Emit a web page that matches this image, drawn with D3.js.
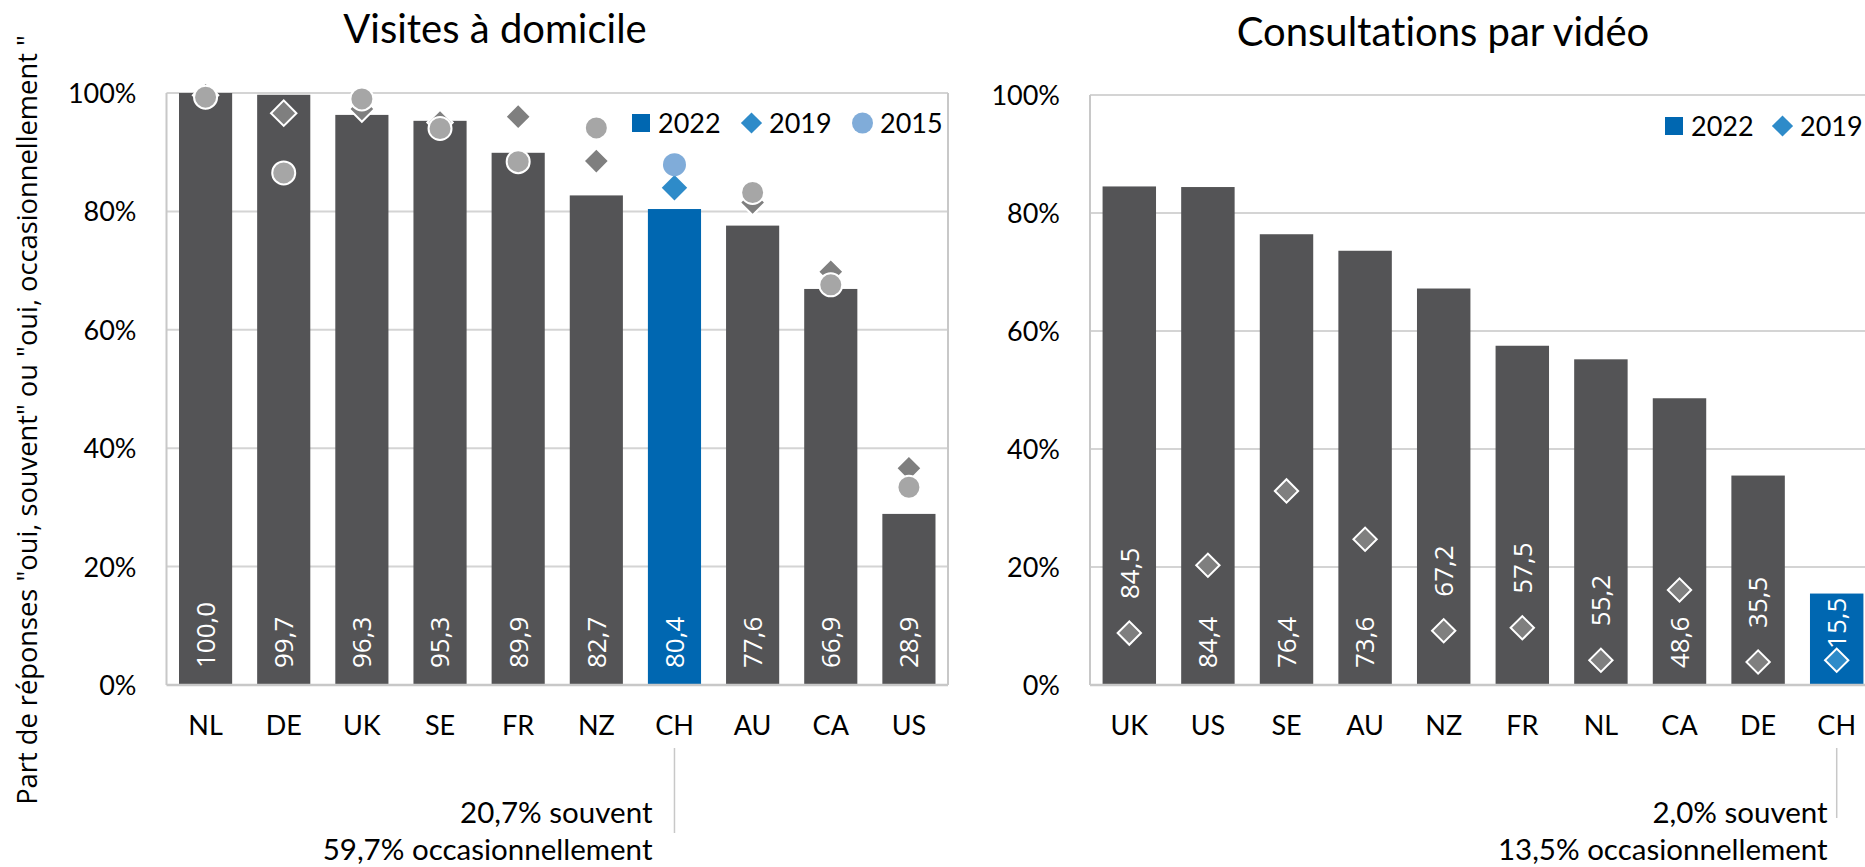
<!DOCTYPE html>
<html>
<head>
<meta charset="utf-8">
<script src="https://cdn.jsdelivr.net/npm/d3@7"></script>
<style>
  html, body { margin: 0; padding: 0; background: #fff; }
  svg { display: block; }
  text { font-variant-ligatures: none; font-feature-settings: "liga" 0; }
</style>
</head>
<body>
<svg id="chart" width="1865" height="867"></svg>
<script>
// ---------- DATA ----------
const visitCountries = ["NL","DE","UK","SE","FR","NZ","CH","AU","CA","US"];
const visits2022 = [100.0, 99.7, 96.3, 95.3, 89.9, 82.7, 80.4, 77.6, 66.9, 28.9];
const visits2019 = [99.6, 96.6, 97.3, 95.0, 96.0, 88.5, 84.0, 81.5, 69.8, 36.6];
const visits2015 = [99.3, 86.5, 99.0, 94.0, 88.4, 94.1, 87.9, 83.2, 67.6, 33.4];

const videoCountries = ["UK","US","SE","AU","NZ","FR","NL","CA","DE","CH"];
const video2022 = [84.5, 84.4, 76.4, 73.6, 67.2, 57.5, 55.2, 48.6, 35.5, 15.5];
const video2019 = [8.8, 20.3, 32.9, 24.7, 9.2, 9.7, 4.2, 16.1, 3.9, 4.2];

const yTicks = [0, 20, 40, 60, 80, 100];
const highlight = "CH";
const titles = ["Visites à domicile", "Consultations par vidéo"];
const yAxisTitle = 'Part de réponses "oui, souvent" ou "oui, occasionnellement "';
const visitNotes = ["20,7% souvent", "59,7% occasionnellement"];
const videoNotes = ["2,0% souvent", "13,5% occasionnellement"];

// ---------- STYLE ----------
const C = {
  bar: "#545456", blue: "#0067b1", dia: "#7f7f7f", circ: "#a6a6a6",
  blueDia: "#2e8bc9", blueCirc: "#80acd9", grid: "#d4d4d4", border: "#c8c8c8"
};
const FONT = "Lato, Carlito, Calibri, sans-serif";
const FONT2 = "'Open Sans', 'Noto Sans', sans-serif";

const svg = d3.select("#chart");
const fmt = v => d3.format(".1f")(v).replace(".", ",");

function panel(opts) {
  const {x0, x1, y0, y100, cats, v22, v19, v15} = opts;
  const g = svg.append("g");
  const x = d3.scaleBand().domain(cats).range([x0, x1]).paddingInner(0.32).paddingOuter(0.16);
  const y = d3.scaleLinear().domain([0, 100]).range([y0, y100]);

  g.selectAll("line.grid").data(yTicks.filter(t => t > 0)).join("line")
    .attr("x1", x0).attr("x2", x1).attr("y1", d => y(d)).attr("y2", d => y(d))
    .attr("stroke", C.grid).attr("stroke-width", 2);
  g.append("line").attr("x1", x0).attr("x2", x0).attr("y1", y(100)).attr("y2", y(0))
    .attr("stroke", C.border).attr("stroke-width", 2);
  g.append("line").attr("x1", x1).attr("x2", x1).attr("y1", y(100)).attr("y2", y(0))
    .attr("stroke", C.border).attr("stroke-width", 2);

  const ax = g.append("g").attr("transform", `translate(${x0 - 30},0)`)
    .call(d3.axisLeft(y).tickValues(yTicks).tickFormat(d => d + "%").tickSize(0).tickPadding(0));
  ax.select(".domain").remove();
  ax.selectAll("text").attr("font-family", FONT).attr("font-size", 27).attr("fill", "#000")
    .attr("dy", "0.35em");

  const data = cats.map((c, i) => ({c, v22: v22[i], v19: v19 ? v19[i] : null, v15: v15 ? v15[i] : null}));

  g.selectAll("rect.bar").data(data).join("rect")
    .attr("x", d => x(d.c)).attr("width", x.bandwidth())
    .attr("y", d => y(d.v22)).attr("height", d => y(0) - y(d.v22))
    .attr("fill", d => d.c === highlight ? C.blue : C.bar);

  g.append("line").attr("x1", x0).attr("x2", x1).attr("y1", y(0)).attr("y2", y(0))
    .attr("stroke", C.border).attr("stroke-width", 2.5);

  const xa = g.append("g").attr("transform", `translate(0,${y(0)})`)
    .call(d3.axisBottom(x).tickSize(0).tickPadding(0));
  xa.select(".domain").remove();
  xa.selectAll("text").attr("font-family", FONT).attr("font-size", 27).attr("fill", "#000")
    .attr("dy", null).attr("y", 50);

  return {g, x, y, data};
}

function diamond(sel, side) {
  return sel.attr("d", d3.symbol().type(d3.symbolSquare).size(side * side)());
}

// ---------- LEFT PANEL ----------
const L = panel({x0: 166.5, x1: 948, y0: 685, y100: 93, cats: visitCountries, v22: visits2022, v19: visits2019, v15: visits2015});
L.g.selectAll("text.val").data(L.data).join("text")
  .attr("transform", d => `translate(${L.x(d.c) + L.x.bandwidth() / 2},${L.y(0) - 17}) rotate(-90)`)
  .attr("dy", "0.36em").attr("font-family", FONT2).attr("font-size", 26).attr("fill", "#fff")
  .text(d => fmt(d.v22));
L.g.selectAll("path.d19").data(L.data).join("path")
  .call(diamond, 18)
  .attr("transform", d => `translate(${L.x(d.c) + L.x.bandwidth() / 2},${L.y(d.v19)}) rotate(45)`)
  .attr("fill", d => d.c === highlight ? C.blueDia : C.dia)
  .attr("stroke", d => d.c === highlight ? "none" : "#fff").attr("stroke-width", 2);
L.g.selectAll("circle.c15").data(L.data).join("circle")
  .attr("cx", d => L.x(d.c) + L.x.bandwidth() / 2).attr("cy", d => L.y(d.v15)).attr("r", 11.5)
  .attr("fill", d => d.c === highlight ? C.blueCirc : C.circ)
  .attr("stroke", d => d.c === highlight ? "none" : "#fff").attr("stroke-width", 2);

// ---------- RIGHT PANEL ----------
const R = panel({x0: 1090, x1: 1876, y0: 685, y100: 95, cats: videoCountries, v22: video2022, v19: video2019, v15: null});
const rv = R.g.selectAll("text.val").data(R.data).join("text")
  .attr("dy", "0.36em").attr("font-family", FONT2).attr("font-size", 26).attr("fill", "#fff")
  .text(d => fmt(d.v22));
rv.attr("transform", function(d) {
  const len = this.getComputedTextLength();
  let bottom = R.y(0) - 17;
  if (d.v19 < 12) bottom = Math.min(bottom, R.y(d.v19) - 34);
  bottom = Math.max(bottom, R.y(d.v22) + len + 4);
  return `translate(${R.x(d.c) + R.x.bandwidth() / 2},${bottom}) rotate(-90)`;
});
R.g.selectAll("path.d19").data(R.data).join("path")
  .call(diamond, 16.5)
  .attr("transform", d => `translate(${R.x(d.c) + R.x.bandwidth() / 2},${R.y(d.v19)}) rotate(45)`)
  .attr("fill", d => d.c === highlight ? C.blueDia : C.dia)
  .attr("stroke", "#fff").attr("stroke-width", 2);

// ---------- TITLES ----------
svg.append("text").attr("x", 495).attr("y", 43).attr("text-anchor", "middle")
  .attr("font-family", FONT).attr("font-size", 40).text(titles[0]);
svg.append("text").attr("x", 1443).attr("y", 46).attr("text-anchor", "middle")
  .attr("font-family", FONT).attr("font-size", 40).text(titles[1]);

const yt = svg.append("text").attr("transform", "translate(27,420) rotate(-90)")
  .attr("text-anchor", "middle").attr("dy", "0.36em")
  .attr("font-family", FONT2).attr("font-size", 24).attr("fill", "#000").text(yAxisTitle);
const ytl = yt.node().getComputedTextLength();
yt.attr("font-size", 24 * 770 / ytl);

// ---------- LEGENDS ----------
function legend(yc, items) {
  const lg = svg.append("g");
  items.forEach(it => {
    if (it.type === "sq") lg.append("rect").attr("x", it.mx - 9).attr("y", yc - 9).attr("width", 18).attr("height", 18).attr("fill", it.color);
    if (it.type === "di") lg.append("path").call(diamond, 15).attr("transform", `translate(${it.mx},${yc}) rotate(45)`).attr("fill", it.color);
    if (it.type === "ci") lg.append("circle").attr("cx", it.mx).attr("cy", yc).attr("r", 10.5).attr("fill", it.color);
    lg.append("text").attr("x", it.tx).attr("y", yc).attr("dy", "0.36em")
      .attr("font-family", FONT).attr("font-size", 27).text(it.label);
  });
}
legend(123, [
  {type: "sq", mx: 641, tx: 658, color: C.blue, label: "2022"},
  {type: "di", mx: 751.5, tx: 769, color: C.blueDia, label: "2019"},
  {type: "ci", mx: 862.5, tx: 880, color: C.blueCirc, label: "2015"}
]);
legend(126, [
  {type: "sq", mx: 1674, tx: 1691, color: C.blue, label: "2022"},
  {type: "di", mx: 1782.5, tx: 1800, color: C.blueDia, label: "2019"}
]);

// ---------- ANNOTATIONS ----------
function note(P, lines, gap, yEnd) {
  const cx = P.x(highlight) + P.x.bandwidth() / 2;
  svg.append("line").attr("x1", cx).attr("x2", cx).attr("y1", 748).attr("y2", yEnd)
    .attr("stroke", C.border).attr("stroke-width", 1.5);
  lines.forEach((t, i) => svg.append("text").attr("x", cx - gap).attr("y", 823 + i * 37)
    .attr("text-anchor", "end").attr("font-family", FONT).attr("font-size", 29.5).text(t));
}
note(L, visitNotes, 22, 833);
note(R, videoNotes, 9, 818);
</script>
</body>
</html>
